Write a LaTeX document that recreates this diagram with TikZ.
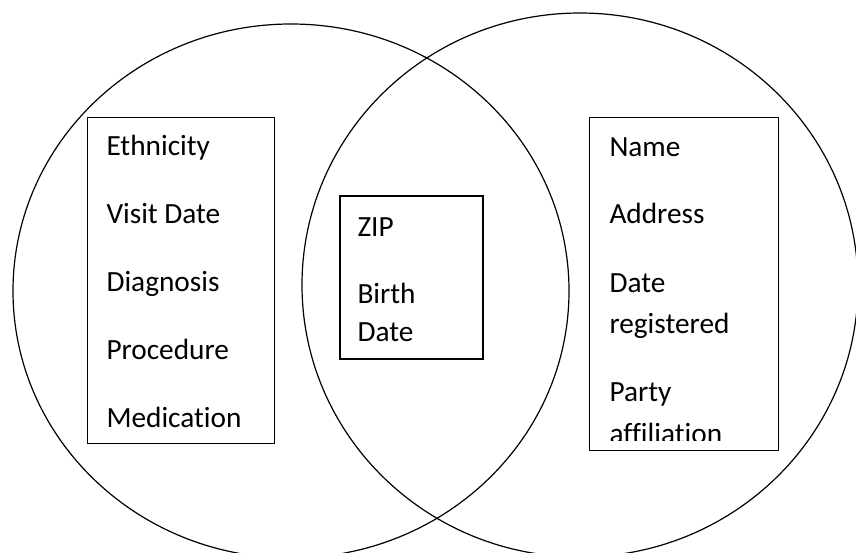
\documentclass[tikz,border=0pt]{standalone}
\usepackage{fontspec}
\setmainfont[Ligatures=NoCommon]{Carlito}
\begin{document}
\begin{tikzpicture}[x=1pt,y=-1pt,
  venn/.style={draw=black,line width=1.2pt},
  listbox/.style={draw=black,line width=1.5pt,rectangle,inner sep=0pt,outer sep=0pt,anchor=north west},
  item/.style={anchor=base west,inner sep=0pt,outer sep=0pt,font=\fontsize{29.3}{41}\selectfont}
]
\useasboundingbox (0,0) rectangle (856,552);
\fill[white] (0,0) rectangle (856,552);
\begin{scope}
  \clip (0,0) rectangle (856,552);
  \draw[venn] (291,291) ellipse [x radius=278pt, y radius=267pt];
  \draw[venn] (580,285) ellipse [x radius=278pt, y radius=272pt];
\end{scope}
% left box
\node[listbox,minimum width=187pt,minimum height=326pt] (lbox) at (87.5,117.5) {};
\node[item] (eth) at (106.5,155) {Ethnicity};
\node[item] (vis) at (106.5,223) {Visit Date};
\node[item] (dia) at (106.5,291.5) {Diagnosis};
\node[item] (pro) at (106.5,359.5) {Procedure};
\node[item] (med) at (106.5,427.7) {Medication};
% middle box
\node[listbox,minimum width=143pt,minimum height=163pt] (mbox) at (340,196) {};
\node[item] (zip) at (357.5,236.5) {ZIP};
\node[item] (bir) at (357.5,303.5) {Birth};
\node[item] (bda) at (357.5,341) {Date};
% right box
\node[listbox,minimum width=189pt,minimum height=333pt] (rbox) at (589.5,117.5) {};
\node[item] (nam) at (609.5,156.5) {Name};
\node[item] (adr) at (609.5,223) {Address};
\node[item] (dat) at (609.5,292) {Date};
\node[item] (reg) at (609.5,333.5) {registered};
\node[item] (par) at (609.5,401.5) {Party};
\begin{scope}
  \clip (589,117) rectangle (779,440);
  \node[item] (aff) at (609.5,443) {affiliation};
\end{scope}
\end{tikzpicture}
\end{document}
